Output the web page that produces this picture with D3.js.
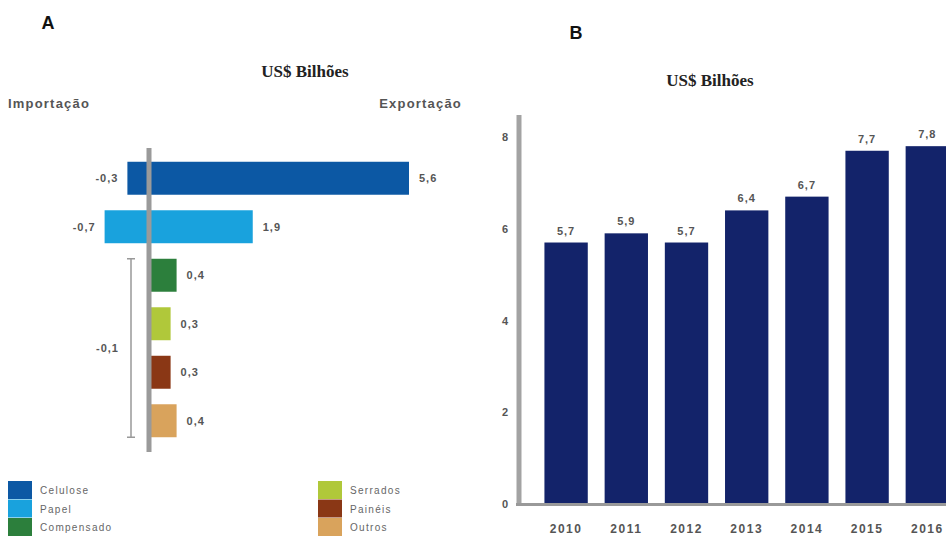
<!DOCTYPE html>
<html>
<head>
<meta charset="utf-8">
<script src="https://cdn.jsdelivr.net/npm/d3@7"></script>
<style>
  html, body { margin: 0; padding: 0; background: #fff; }
  svg { display: block; }
  .lbl { font-family: "Liberation Sans", Arial, sans-serif; font-weight: bold; fill: #555; }
  .ttl { font-family: "Liberation Serif", "Times New Roman", serif; font-weight: bold; fill: #222; }
</style>
</head>
<body>
<svg id="chart" width="946" height="543"></svg>
<script>
// Panel A: trade balance by product (US$ billions)
const products = ["Celulose", "Papel", "Compensado", "Serrados", "Painéis", "Outros"];
const exportsA = [5.6, 1.9, 0.4, 0.3, 0.3, 0.4];
const importsA = [-0.3, -0.7];          // individual imports for Celulose and Papel
const importsOther = -0.1;              // combined imports for the remaining products
const productColors = ["#0c58a4", "#19a2dd", "#2c7f3c", "#b0c83a", "#8a3715", "#d9a35c"];

// Panel B: yearly totals (US$ billions)
const years = ["2010", "2011", "2012", "2013", "2014", "2015", "2016"];
const totals = [5.7, 5.9, 5.7, 6.4, 6.7, 7.7, 7.8];
const yTicks = [0, 2, 4, 6, 8];

const fmt = v => String(v).replace(".", ",");
const svg = d3.select("#chart");

// ---------- Panel A ----------
const gA = svg.append("g");
gA.append("text").attr("x", 48).attr("y", 29).attr("text-anchor", "middle")
  .style("font-family", "Liberation Sans, Arial, sans-serif").style("font-weight", "bold")
  .style("font-size", "18px").attr("fill", "#111").text("A");
gA.append("text").attr("class", "ttl").attr("x", 305).attr("y", 77)
  .attr("text-anchor", "middle").style("font-size", "17px").text("US$ Bilhões");
gA.append("text").attr("class", "lbl").attr("x", 8).attr("y", 108)
  .style("font-size", "13px").style("letter-spacing", "1.2px").text("Importação");
gA.append("text").attr("class", "lbl").attr("x", 462).attr("y", 108).attr("text-anchor", "end")
  .style("font-size", "13px").style("letter-spacing", "1.2px").text("Exportação");

const xA = d3.scalePow().exponent(0.85).domain([0, 5.6]).range([149, 409]);
const yA = d3.scaleBand().domain(products).range([154, 445])
  .paddingInner(0.32).paddingOuter(0.16);

const rowsA = products.map((p, i) => ({
  name: p, exp: exportsA[i], imp: i < importsA.length ? importsA[i] : 0, color: productColors[i]
}));

gA.selectAll("rect.bar").data(rowsA).join("rect").attr("class", "bar")
  .attr("x", d => xA(d.imp))
  .attr("y", d => yA(d.name))
  .attr("width", d => xA(d.exp) - xA(d.imp))
  .attr("height", yA.bandwidth())
  .attr("fill", d => d.color);

// export value labels
gA.selectAll("text.exp").data(rowsA).join("text").attr("class", "lbl exp")
  .attr("x", d => xA(d.exp) + 10)
  .attr("y", d => yA(d.name) + yA.bandwidth() / 2 + 4)
  .style("font-size", "11px").style("letter-spacing", "1px")
  .text(d => fmt(d.exp));

// import value labels
gA.selectAll("text.imp").data(rowsA.filter(d => d.imp < 0)).join("text").attr("class", "lbl imp")
  .attr("x", d => xA(d.imp) - 9)
  .attr("y", d => yA(d.name) + yA.bandwidth() / 2 + 4)
  .attr("text-anchor", "end")
  .style("font-size", "11px").style("letter-spacing", "1px")
  .text(d => fmt(d.imp));

// bracket grouping the smaller products' combined imports
const grouped = products.slice(importsA.length);
const bTop = yA(grouped[0]);
const bBot = yA(grouped[grouped.length - 1]) + yA.bandwidth();
const bx = 131;
const bracket = gA.append("g").attr("stroke", "#999").attr("stroke-width", 1.5);
bracket.append("line").attr("x1", bx).attr("x2", bx).attr("y1", bTop).attr("y2", bBot);
bracket.append("line").attr("x1", bx - 4).attr("x2", bx + 4).attr("y1", bTop).attr("y2", bTop);
bracket.append("line").attr("x1", bx - 4).attr("x2", bx + 4).attr("y1", bBot).attr("y2", bBot);
gA.append("text").attr("class", "lbl").attr("x", 119).attr("y", (bTop + bBot) / 2 + 4)
  .attr("text-anchor", "end").style("font-size", "11px").style("letter-spacing", "1px")
  .text(fmt(importsOther));

// zero axis
gA.append("line").attr("x1", xA(0)).attr("x2", xA(0)).attr("y1", 148).attr("y2", 452)
  .attr("stroke", "#9a9a9a").attr("stroke-width", 5);

// legend
const legend = gA.append("g");
rowsA.forEach((d, i) => {
  const col = Math.floor(i / 3), row = i % 3;
  const lx = col === 0 ? 8 : 318;
  const ly = 481 + row * 18.5;
  legend.append("rect").attr("x", lx).attr("y", ly).attr("width", 24).attr("height", 18)
    .attr("fill", d.color);
  legend.append("text").attr("x", lx + 32).attr("y", ly + 13)
    .style("font-family", "Liberation Sans, Arial, sans-serif").style("font-size", "10px")
    .style("letter-spacing", "1.3px").attr("fill", "#666").text(d.name);
});

// ---------- Panel B ----------
const gB = svg.append("g");
gB.append("text").attr("x", 576).attr("y", 39).attr("text-anchor", "middle")
  .style("font-family", "Liberation Sans, Arial, sans-serif").style("font-weight", "bold")
  .style("font-size", "18px").attr("fill", "#111").text("B");
gB.append("text").attr("class", "ttl").attr("x", 710).attr("y", 86)
  .attr("text-anchor", "middle").style("font-size", "17px").text("US$ Bilhões");

const xB = d3.scaleBand().domain(years).range([536, 536 + 7 * 60.2])
  .paddingInner(0.28).paddingOuter(0.14);
const yB = d3.scaleLinear().domain([0, 8]).range([504, 137]);
const rowsB = years.map((y, i) => ({ year: y, v: totals[i] }));

gB.selectAll("rect").data(rowsB).join("rect")
  .attr("x", d => xB(d.year)).attr("y", d => yB(d.v))
  .attr("width", xB.bandwidth()).attr("height", d => yB(0) - yB(d.v))
  .attr("fill", "#13236a");

gB.selectAll("text.val").data(rowsB).join("text").attr("class", "lbl val")
  .attr("x", d => xB(d.year) + xB.bandwidth() / 2).attr("y", d => yB(d.v) - 8)
  .attr("text-anchor", "middle").style("font-size", "11px").style("letter-spacing", "1px")
  .attr("fill", "#444").text(d => fmt(d.v));

// y axis
const yAxis = d3.axisLeft(yB).tickValues(yTicks).tickSize(0).tickPadding(10);
const yg = gB.append("g").attr("transform", "translate(519,0)").call(yAxis);
yg.select(".domain").remove();
yg.selectAll("text").attr("class", "lbl").style("font-size", "11px").attr("fill", "#555")
  .attr("text-anchor", "middle").attr("dx", "-4");
gB.append("line").attr("x1", 519).attr("x2", 519).attr("y1", 115).attr("y2", 506)
  .attr("stroke", "#a3a3a3").attr("stroke-width", 5);

// x axis
const xAxis = d3.axisBottom(xB).tickSize(0).tickPadding(20);
const xg = gB.append("g").attr("transform", `translate(0,${yB(0)})`).call(xAxis);
xg.select(".domain").remove();
xg.selectAll("text").attr("class", "lbl").style("font-size", "12px")
  .style("letter-spacing", "1.5px").attr("fill", "#444");
gB.append("line").attr("x1", 516).attr("x2", 946).attr("y1", yB(0) + 0.5).attr("y2", yB(0) + 0.5)
  .attr("stroke", "#999").attr("stroke-width", 3);
</script>
</body>
</html>
